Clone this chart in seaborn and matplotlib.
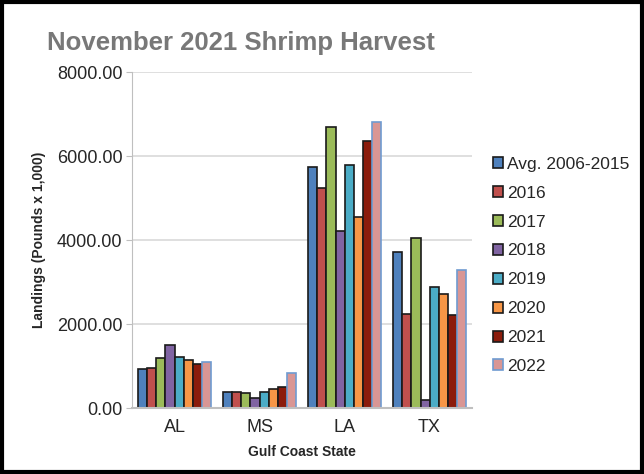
import matplotlib
matplotlib.use("Agg")
import matplotlib.pyplot as plt
import seaborn as sns
import pandas as pd
from matplotlib.patches import Rectangle

states = ["AL", "MS", "LA", "TX"]
series = ["Avg. 2006-2015", "2016", "2017", "2018", "2019", "2020", "2021", "2022"]
avg_2006_2015 = [930, 390, 5730, 3705]
y2016 = [960, 390, 5240, 2245]
y2017 = [1190, 357, 6680, 4055]
y2018 = [1505, 245, 4220, 200]
y2019 = [1220, 380, 5795, 2880]
y2020 = [1135, 445, 4540, 2715]
y2021 = [1055, 500, 6370, 2215]
y2022 = [1095, 825, 6815, 3285]

colors = ["#4F81BD", "#C0504D", "#9BBB59", "#8064A2", "#4BACC6",
          "#F79646", "#8B1C0C", "#D99694"]

values = [avg_2006_2015, y2016, y2017, y2018, y2019, y2020, y2021, y2022]
rows = []
for name, vals in zip(series, values):
    for st, v in zip(states, vals):
        rows.append({"state": st, "series": name, "value": v})
df = pd.DataFrame(rows)

sns.set_style("white")
plt.rcParams["font.family"] = ["Liberation Sans", "DejaVu Sans"]

fig = plt.figure(figsize=(6.44, 4.74), dpi=100)
ax = fig.add_axes([0.205, 0.139, 0.528, 0.709])

sns.barplot(data=df, x="state", y="value", hue="series", hue_order=series,
            palette=colors, width=0.85, edgecolor="#1a1a1a", linewidth=1.2,
            saturation=1, ax=ax)
for cont, name in zip(ax.containers, series):
    for bar in cont:
        if name == "2022":
            bar.set_edgecolor("#6F9BD1")
            bar.set_linewidth(1.2)

ax.set_ylim(0, 8000)
ax.set_yticks([0, 2000, 4000, 6000, 8000])
ax.set_yticklabels([f"{t:.2f}" for t in [0, 2000, 4000, 6000, 8000]], fontsize=13)
ax.tick_params(axis="x", labelsize=13, length=0, pad=8)
ax.tick_params(axis="y", length=4, color="#bfbfbf", left=True, pad=3)
ax.yaxis.grid(True, color="#d9d9d9", linewidth=1.2)
ax.set_axisbelow(True)
for s in ["top", "right"]:
    ax.spines[s].set_visible(False)
ax.spines["left"].set_color("#bfbfbf")
ax.spines["bottom"].set_color("#bfbfbf")
ax.spines["bottom"].set_linewidth(1.5)

ax.set_xlabel("Gulf Coast State", fontsize=10, fontweight="bold", labelpad=6)
ax.set_ylabel("Landings (Pounds x 1,000)", fontsize=10, fontweight="bold", labelpad=8)

leg = ax.legend(loc="center left", bbox_to_anchor=(0.765, 0.44),
                bbox_transform=fig.transFigure, frameon=False, fontsize=12.5,
                handlelength=0.6, handleheight=0.6, handletextpad=0.25,
                labelspacing=0.8, borderaxespad=0, borderpad=0)
for h, name in zip(leg.legend_handles, series):
    h.set_edgecolor("#6F9BD1" if name == "2022" else "#1a1a1a")

fig.text(0.073, 0.895, "November 2021 Shrimp Harvest", fontsize=18.5,
         fontweight="bold", color="#787878")

fig.patches.append(Rectangle((0.003, 0.004), 0.994, 0.992, transform=fig.transFigure,
                             fill=False, edgecolor="black", linewidth=3))

fig.savefig("out.png", dpi=100)
